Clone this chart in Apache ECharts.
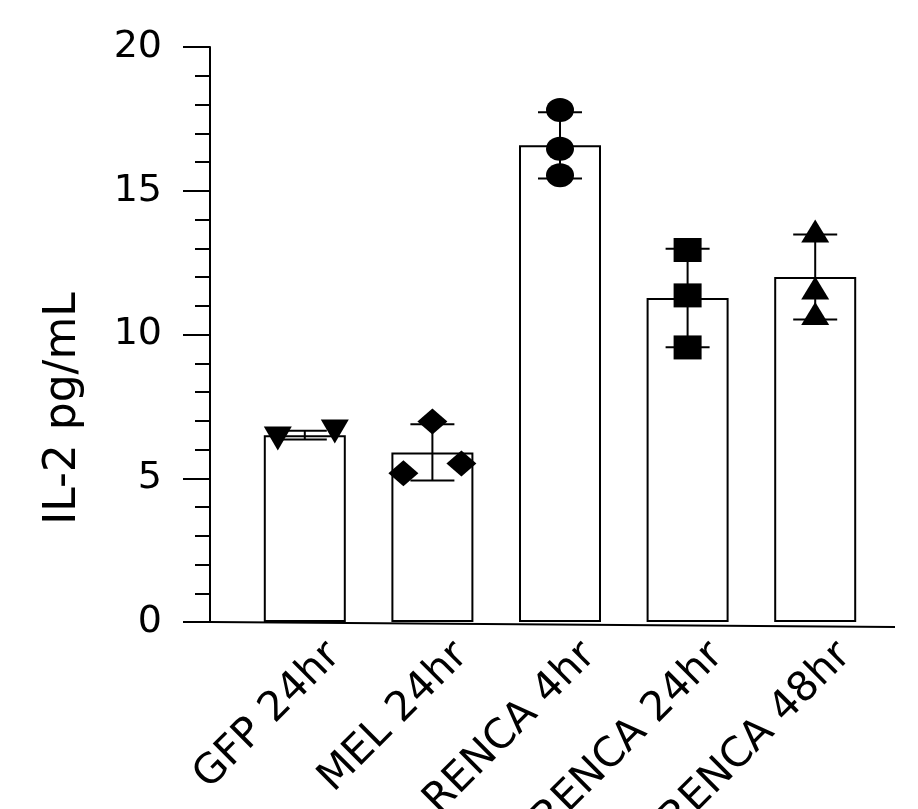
<!DOCTYPE html>
<html>
<head>
<meta charset="utf-8">
<script src="https://cdn.jsdelivr.net/npm/echarts@6/dist/echarts.min.js"></script>
<style>
  html, body { margin: 0; padding: 0; background: #fff; }
  #chart { width: 918px; height: 809px; }
</style>
</head>
<body>
<div id="chart"></div>
<script>
// data
const categories = ['GFP 24hr', 'MEL 24hr', 'RENCA 4hr', 'RENCA 24hr', 'RENCA 48hr'];
const means = [6.5, 5.9, 16.58, 11.27, 12.0];
const sds = [0.15, 0.98, 1.15, 1.71, 1.48];
const gfpPoints = [6.38, 6.63];
const melPoints = [5.17, 6.97, 5.51];
const renca4Points = [17.81, 16.46, 15.54];
const renca24Points = [12.94, 11.36, 9.55];
const renca48Points = [13.6, 11.62, 10.73];
const yTicks = [0, 5, 10, 15, 20];

const groups = [gfpPoints, melPoints, renca4Points, renca24Points, renca48Points];
// horizontal scatter of replicates (px)
const jitter = [[-27, 30], [-29, 0, 29], [0, 0, 0], [0, 0, 0], [0, 0, 0]];
const symbols = [
    { symbol: 'triangle', rotate: 180, size: [28, 24] },
    { symbol: 'diamond', rotate: 0, size: [30, 26] },
    { symbol: 'circle', rotate: 0, size: [28, 24] },
    { symbol: 'rect', rotate: 0, size: [28, 24] },
    { symbol: 'triangle', rotate: 0, size: [28, 23] },
];

const FONT = 'DejaVu Sans';
const gridLeft = 241, gridRight = 39, gridTop = 47, gridBottom = 187;
const yOffset = 31;

const chart = echarts.init(document.getElementById('chart'));

const pointSeries = groups.map((pts, i) => ({
    type: 'scatter',
    z: 5,
    symbol: symbols[i].symbol,
    symbolRotate: symbols[i].rotate,
    symbolSize: symbols[i].size,
    itemStyle: { color: '#000', opacity: 1 },
    emphasis: { disabled: true },
    data: pts.map((v, j) => ({ value: [i, v], symbolOffset: [jitter[i][j], 0] })),
}));

const option = {
    animation: false,
    grid: {
        left: gridLeft, right: gridRight, top: gridTop, bottom: gridBottom,
        containLabel: false,
        outerBoundsMode: 'none'
    },
    xAxis: {
        type: 'category',
        data: categories,
        axisLine: { show: false },
        axisTick: { show: false },
        axisLabel: {
            interval: 0,
            rotate: 45,
            margin: -2,
            verticalAlign: 'top',
            lineHeight: 83,
            fontFamily: FONT,
            fontSize: 41,
            color: '#000'
        },
    },
    yAxis: {
        type: 'value',
        min: yTicks[0],
        max: yTicks[yTicks.length - 1],
        interval: 5,
        offset: yOffset,
        name: 'IL-2 pg/mL',
        nameLocation: 'middle',
        nameGap: 124,
        nameRotate: 90,
        nameTextStyle: { fontFamily: FONT, fontSize: 44, color: '#000', padding: [0, 148, 0, 0] },
        axisLine: { show: true, lineStyle: { color: '#000', width: 2 } },
        axisTick: { show: true, length: 27, lineStyle: { color: '#000', width: 2 } },
        minorTick: { show: true, splitNumber: 5, length: 15, lineStyle: { color: '#000', width: 2 } },
        splitLine: { show: false },
        axisLabel: { margin: 48, fontFamily: FONT, fontSize: 38, color: '#000' },
    },
    series: [
        {
            type: 'bar',
            z: 2,
            barWidth: 82,
            data: means,
            itemStyle: { color: '#fff', borderColor: '#000', borderWidth: 2 },
            emphasis: { disabled: true },
        },
        {
            type: 'custom',
            z: 4,
            data: means.map((m, i) => [i, m - sds[i], m + sds[i]]),
            renderItem: (params, api) => {
                const lo = api.coord([api.value(0), api.value(1)]);
                const hi = api.coord([api.value(0), api.value(2)]);
                const cap = 22;
                const style = { stroke: '#000', lineWidth: 2 };
                return {
                    type: 'group',
                    children: [
                        { type: 'line', shape: { x1: lo[0], y1: lo[1], x2: hi[0], y2: hi[1] }, style },
                        { type: 'line', shape: { x1: hi[0] - cap, y1: hi[1], x2: hi[0] + cap, y2: hi[1] }, style },
                        { type: 'line', shape: { x1: lo[0] - cap, y1: lo[1], x2: lo[0] + cap, y2: lo[1] }, style },
                    ]
                };
            }
        },
        ...pointSeries
    ]
};
chart.setOption(option);

// baseline (slightly tilted in the original), from the y axis to past the last bar
const y0 = chart.convertToPixel({ yAxisIndex: 0 }, 0);
chart.setOption({
    graphic: [{
        type: 'line',
        z: 10,
        shape: { x1: gridLeft - yOffset, y1: y0, x2: 895, y2: y0 + 5 },
        style: { stroke: '#000', lineWidth: 2 }
    }]
});
</script>
</body>
</html>
